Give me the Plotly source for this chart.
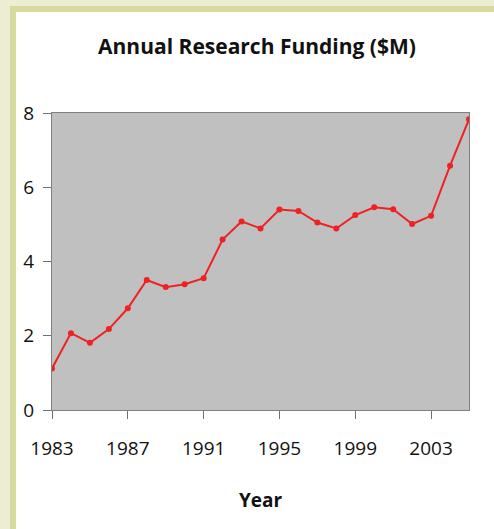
import plotly.graph_objects as go

years = list(range(1983, 2006))
funding = [1.12, 2.07, 1.81, 2.18, 2.74, 3.50, 3.31, 3.39, 3.55, 4.59, 5.08, 4.89,
           5.40, 5.36, 5.05, 4.89, 5.25, 5.46, 5.41, 5.01, 5.23, 6.58, 7.83]
x_ticks = [1983, 1987, 1991, 1995, 1999, 2003]
y_ticks = [0, 2, 4, 6, 8]

W, H = 494, 529
L, R, T, B = 52, 469, 113, 410  # plot area pixel box


def px(x):
    return (x - L) / (R - L)


def py(y):
    return (B - y) / (B - T)


CREAM = "#EDEDD4"
OLIVE = "#D6DA9C"
FONT = "Open Sans, Lato, sans-serif"

fig = go.Figure()
fig.add_trace(go.Scatter(
    x=years, y=funding, mode="lines+markers",
    line=dict(color="#EE2222", width=2),
    marker=dict(color="#EE2222", size=6),
    showlegend=False,
))

shapes = [
    dict(type="rect", xref="paper", yref="paper", x0=px(0), x1=px(10), y0=py(H), y1=py(0),
         fillcolor=CREAM, line=dict(width=0)),
    dict(type="rect", xref="paper", yref="paper", x0=px(0), x1=px(W), y0=py(6), y1=py(0),
         fillcolor=CREAM, line=dict(width=0)),
    dict(type="rect", xref="paper", yref="paper", x0=px(10), x1=px(16), y0=py(H), y1=py(6),
         fillcolor=OLIVE, line=dict(width=0)),
    dict(type="rect", xref="paper", yref="paper", x0=px(10), x1=px(W), y0=py(12), y1=py(6),
         fillcolor=OLIVE, line=dict(width=0)),
]

fig.update_layout(
    width=W, height=H,
    margin=dict(l=L, r=W - R, t=T, b=H - B),
    paper_bgcolor="white",
    plot_bgcolor="#C0C0C0",
    shapes=shapes,
    title=dict(text="<b>Annual Research Funding ($M)</b>", x=257 / W, xanchor="center",
               y=1 - 47 / H, yanchor="middle", font=dict(family=FONT, size=21, color="#111")),
    xaxis=dict(range=[1983, 2005], tickvals=x_ticks, ticks="outside", ticklen=8,
               tickcolor="#707070", showgrid=False, zeroline=False, showline=True,
               linecolor="#808080", linewidth=1, mirror=True,
               tickfont=dict(family=FONT, size=19, color="#111"), ticklabelstandoff=13,
               title=dict(text="<b>Year</b>", font=dict(family=FONT, size=19, color="#111"),
                          standoff=33)),
    yaxis=dict(range=[0, 8], tickvals=y_ticks, ticks="outside", ticklen=8,
               tickcolor="#707070", showgrid=False, zeroline=False, showline=True,
               linecolor="#808080", linewidth=1, mirror=True,
               tickfont=dict(family=FONT, size=19, color="#111"), ticklabelstandoff=5),
)

fig.write_html("out.html", config={"displayModeBar": False},
               post_script="document.body.style.margin='0';")
